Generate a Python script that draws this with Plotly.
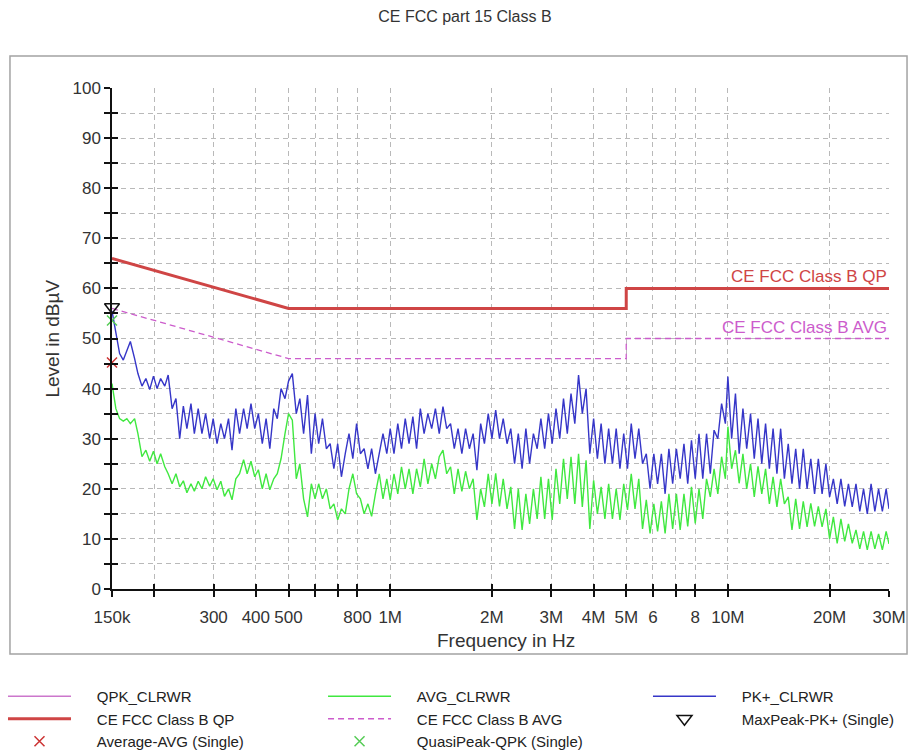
import plotly.graph_objects as go

# ---------------- text ----------------
title_text = "CE FCC part 15 Class B"
x_title = "Frequency in Hz"
y_title = "Level in dBµV"
legend_names = ["QPK_CLRWR", "AVG_CLRWR", "PK+_CLRWR", "CE FCC Class B QP",
                "CE FCC Class B AVG", "MaxPeak-PK+ (Single)", "Average-AVG (Single)",
                "QuasiPeak-QPK (Single)"]

# ---------------- axes ----------------
x_tick_vals_hz = [150e3, 200e3, 300e3, 400e3, 500e3, 600e3, 700e3, 800e3, 1e6,
                  2e6, 3e6, 4e6, 5e6, 6e6, 7e6, 8e6, 10e6, 20e6, 30e6]
x_tick_text = ["150k", "", "300", "400", "500", "", "", "800", "1M",
               "2M", "3M", "4M", "5M", "6", "", "8", "10M", "20M", "30M"]
y_tick_vals = [0, 5, 10, 15, 20, 25, 30, 35, 40, 45, 50, 55, 60, 65, 70, 75, 80, 85, 90, 95, 100]
y_tick_text = ["0", "", "10", "", "20", "", "30", "", "40", "", "50", "", "60", "", "70", "",
               "80", "", "90", "", "100"]

# ---------------- limit lines ----------------
limit_freq_hz = [150e3, 500e3, 5e6, 5e6, 30e6]
qp_limit_level = [66, 56, 56, 60, 60]
avg_limit_level = [56, 46, 46, 50, 50]

# ---------------- measured traces (kHz, dBµV) ----------------
freq_khz_seg1 = [150, 154, 158, 162, 166, 170, 175, 179, 184, 189,
                 194, 199, 204, 209, 215, 220, 226, 232, 238, 244,
                 250, 257, 263, 270, 277, 284, 292, 299, 307, 315,
                 323, 332, 340, 349, 358, 368, 377, 387, 397, 407,
                 418, 429, 440, 452, 463, 475, 488, 500, 513, 527,
                 540, 554, 569, 584, 599, 614, 630, 647, 664, 681,
                 699, 717, 736, 755, 775, 795, 816, 837, 859, 881,
                 904, 928, 952, 977, 1000]
freq_khz_seg2 = [1026, 1053, 1080, 1108, 1137, 1167, 1197, 1228, 1260, 1293,
                 1327, 1361, 1397, 1433, 1470, 1509, 1548, 1588, 1630, 1672,
                 1716, 1760, 1806, 1853, 1901, 1951, 2001, 2053, 2107, 2161,
                 2218, 2275, 2335, 2395, 2458, 2522, 2587, 2655, 2724, 2794,
                 2867, 2942, 3018, 3097, 3177, 3260, 3345, 3431, 3521, 3612,
                 3706, 3802, 3901, 4003, 4107, 4213, 4323, 4435, 4551, 4669,
                 4790, 4915, 5043, 5174, 5308, 5446, 5588, 5733, 5882, 6035,
                 6192, 6353, 6518, 6688, 6862, 7040, 7223, 7411, 7604, 7801,
                 8004, 8212, 8426, 8645, 8870, 9101, 9337, 9580, 9829]
freq_khz_seg3 = [10000, 10260, 10530, 10800, 11080, 11370, 11670, 11970, 12280, 12600,
                 12930, 13270, 13610, 13970, 14330, 14700, 15090, 15480, 15880, 16300,
                 16720, 17160, 17600, 18060, 18530, 19010, 19510, 20010, 20530, 21070,
                 21610, 22180, 22750, 23350, 23950, 24580, 25220, 25870, 26550, 27240,
                 27940, 28670, 29420, 30000]

pk_level_seg1 = [55.5, 51, 47, 45.7, 47.5, 49.4, 46, 43, 40.5, 42,
                 39.8, 42.5, 40, 42, 40.5, 42.7, 36, 38, 30, 36.5,
                 32, 37, 31, 36, 31, 35, 30, 34, 29, 33,
                 30, 34, 27.7, 36, 31, 36, 32, 37, 32, 35,
                 29, 34, 28, 36, 34, 40, 38, 41.5, 43, 35,
                 38, 31, 38.7, 27, 35, 29, 34, 28, 29, 24,
                 29, 22.4, 27, 31, 26, 33, 27, 28, 24, 28,
                 23, 27, 31, 27, 32]
pk_level_seg2 = [27, 33, 28, 34, 29, 34.4, 28, 36, 31, 35,
                 32, 36, 31, 36.4, 32, 33, 28, 32, 27, 32,
                 28, 31, 23.7, 33, 29, 35, 30, 35.7, 30, 34,
                 29, 32, 25, 31, 24, 32, 25, 31, 28, 34,
                 28, 35, 29, 36, 30, 38, 31, 39, 33, 42.7,
                 35, 40, 27, 34, 26, 33, 25, 32, 25, 32,
                 24, 31, 24, 33, 26, 32, 25, 27, 20, 27,
                 21, 27, 19, 28, 21, 28, 22, 29, 21, 29.7,
                 22, 31, 22, 31, 23, 31.7, 30, 37, 33]
pk_level_seg3 = [42.4, 30, 39, 27, 36, 28, 35, 26, 34, 25,
                 33, 24, 32, 23, 32, 22, 29, 21, 28, 20,
                 28, 20, 26, 19, 26, 19, 25, 18.4, 22, 17,
                 22, 16.5, 21, 16.4, 21, 15.5, 20, 15, 21, 15.5,
                 20, 15.5, 20, 16]

avg_level_seg1 = [41, 36, 34, 33.5, 34, 33, 34, 31, 26.4, 27.7,
                  25.5, 27.5, 25, 27, 24.4, 23, 21, 23, 20.4, 21.6,
                  19.2, 21, 19.5, 21.5, 20, 22.4, 20.5, 22, 19.8, 21.5,
                  18.5, 20, 17.8, 22, 23, 25.8, 23, 25.5, 22.4, 23.8,
                  20, 23, 19.8, 22, 23, 26, 31, 35, 33.7, 22,
                  25, 18, 14.4, 21, 18, 21, 18, 20, 16, 17,
                  13.8, 16, 15, 20, 23, 19, 18, 15, 17, 14.5,
                  19, 23, 18, 22, 17.8]
avg_level_seg2 = [23, 19, 24.4, 20, 24, 19, 24, 20.4, 26, 21,
                  25, 22, 26.4, 27.7, 23, 24.4, 19, 24, 19.5, 23.5,
                  20, 22, 13.8, 20, 16.4, 23, 17, 23.1, 16.5, 22,
                  16, 20.4, 12, 20, 11.8, 19, 13, 20, 14, 22.4,
                  14, 22, 13.8, 24, 17, 26, 18, 26.4, 17, 27,
                  16.4, 25.7, 12, 21.7, 15, 20.4, 14, 21, 14, 20,
                  13.8, 21, 15.8, 23, 16, 22, 12, 17.8, 11.1, 17,
                  11.5, 17.5, 11.1, 19, 12, 19, 11.8, 19, 12.5, 20.4,
                  13.1, 20, 14, 22, 18.4, 24, 19, 26.4, 22]
avg_level_seg3 = [32.4, 24, 27.7, 21.1, 27, 20, 25, 18.4, 24.5, 19,
                  24, 17, 22.4, 16.4, 22, 17, 18.4, 11.8, 18, 12,
                  17.5, 12.4, 17.1, 12.5, 16.5, 12.4, 16, 10, 14.4, 9.1,
                  14, 9.5, 13, 9.1, 11.8, 8, 11.5, 7.8, 11.5, 8,
                  11, 7.8, 11.5, 9]

# QPK clear-write trace: only its start point is visible (hidden under the others)
qpk_freq_hz = [150e3]
qpk_level = [55.5]

# ---------------- single final measurements ----------------
maxpeak_freq_hz = [150e3]
maxpeak_level = [56.3]
average_single_freq_hz = [150e3]
average_single_level = [45.2]
quasipeak_single_freq_hz = [150e3]
quasipeak_single_level = [53.6]

freq_hz = [f * 1e3 for f in freq_khz_seg1 + freq_khz_seg2 + freq_khz_seg3]
pk_level = pk_level_seg1 + pk_level_seg2 + pk_level_seg3
avg_level = avg_level_seg1 + avg_level_seg2 + avg_level_seg3

FONT = "Liberation Sans, Arial, sans-serif"
C_QPK = "#cc77cc"
C_QP = "#cf4545"
C_AVGL = "#cc5ccc"
C_GREEN = "#40e840"
C_BLUE = "#3636c8"
PAD = "\u00a0" * 5  # gap between legend symbol and its text


def nm(s):
    return PAD + s


fig = go.Figure()

fig.add_trace(go.Scatter(x=qpk_freq_hz, y=qpk_level, mode="lines", name=nm(legend_names[0]),
                         line=dict(color=C_QPK, width=1.5), legend="legend"))
fig.add_trace(go.Scatter(x=freq_hz, y=avg_level, mode="lines", name=nm(legend_names[1]),
                         line=dict(color=C_GREEN, width=1.4), legend="legend2"))
fig.add_trace(go.Scatter(x=freq_hz, y=pk_level, mode="lines", name=nm(legend_names[2]),
                         line=dict(color=C_BLUE, width=1.4), legend="legend3"))
fig.add_trace(go.Scatter(x=limit_freq_hz, y=qp_limit_level, mode="lines",
                         name=nm(legend_names[3]),
                         line=dict(color=C_QP, width=3), legend="legend"))
fig.add_trace(go.Scatter(x=limit_freq_hz, y=avg_limit_level, mode="lines",
                         name=nm(legend_names[4]),
                         line=dict(color=C_AVGL, width=1.3, dash="6px,4px"), legend="legend2"))
fig.add_trace(go.Scatter(x=maxpeak_freq_hz, y=maxpeak_level, mode="markers",
                         name=nm(legend_names[5]), cliponaxis=False,
                         marker=dict(symbol="triangle-down-open", size=13, color="#111111",
                                     line=dict(width=1.5)), legend="legend3"))
fig.add_trace(go.Scatter(x=average_single_freq_hz, y=average_single_level, mode="markers",
                         name=nm(legend_names[6]), cliponaxis=False,
                         marker=dict(symbol="x-thin-open", size=10, color="#cc3333",
                                     line=dict(width=1.5, color="#cc3333")), legend="legend"))
fig.add_trace(go.Scatter(x=quasipeak_single_freq_hz, y=quasipeak_single_level, mode="markers",
                         name=nm(legend_names[7]), cliponaxis=False,
                         marker=dict(symbol="x-thin-open", size=10, color="#55cc55",
                                     line=dict(width=1.5, color="#55cc55")), legend="legend2"))
# carrier for the inner half of the crossing tick marks
fig.add_trace(go.Scatter(x=[], y=[], xaxis="x2", yaxis="y2", showlegend=False,
                         hoverinfo="skip"))

x_range = [5.176091259, 7.477121255]  # log10(150e3), log10(30e6)
grid = dict(showgrid=True, gridcolor="#b9b9b9", gridwidth=1, griddash="5px,4px")
leg_common = dict(y=-0.1816, xanchor="left", yanchor="top", itemwidth=63,
                  bgcolor="rgba(0,0,0,0)", tracegroupgap=0,
                  font=dict(family=FONT, size=15, color="#222222"))

fig.update_layout(
    width=917, height=752,
    margin=dict(l=112, r=28, t=88, b=163, autoexpand=False),
    paper_bgcolor="white", plot_bgcolor="white",
    font=dict(family=FONT, size=17, color="#333333"),
    title=dict(text=title_text, x=0.507, xanchor="center", y=0.978, yanchor="middle",
               font=dict(family=FONT, size=16, color="#333333")),
    xaxis=dict(type="log", range=x_range, tickvals=x_tick_vals_hz, ticktext=x_tick_text,
               ticks="outside", ticklen=6, tickwidth=1.5, tickcolor="#111111",
               showline=True, linecolor="#111111", linewidth=1.5, zeroline=False,
               ticklabelstandoff=6, tickfont=dict(size=17, color="#333333"), **grid),
    yaxis=dict(range=[0, 100], tickvals=y_tick_vals, ticktext=y_tick_text,
               ticks="outside", ticklen=6, tickwidth=1.5, tickcolor="#111111",
               showline=True, linecolor="#111111", linewidth=1.5, zeroline=False,
               tickfont=dict(size=17, color="#333333"), **grid),
    xaxis2=dict(type="log", range=x_range, overlaying="x", anchor="y2", side="bottom",
                tickvals=x_tick_vals_hz, ticks="inside", ticklen=5, tickwidth=1.5,
                tickcolor="#111111", showticklabels=False, showgrid=False,
                showline=False, zeroline=False),
    yaxis2=dict(range=[0, 100], overlaying="y", anchor="x2", side="left",
                tickvals=y_tick_vals, ticks="inside", ticklen=6, tickwidth=1.5,
                tickcolor="#111111", showticklabels=False, showgrid=False,
                showline=False, zeroline=False),
    legend=dict(x=-0.1403, **leg_common),
    legend2=dict(x=0.2716, **leg_common),
    legend3=dict(x=0.6898, **leg_common),
    showlegend=True,
)

# outer frame
fig.add_shape(type="rect", xref="paper", yref="paper",
              x0=-0.1313, x1=1.0232, y0=-0.1297, y1=1.0639,
              line=dict(color="#a3a3a3", width=1.5), layer="below")

# axis titles
fig.add_annotation(text=x_title, xref="paper", yref="paper", x=0.507, y=-0.102,
                   xanchor="center", yanchor="middle", showarrow=False,
                   font=dict(family=FONT, size=19, color="#333333"))
fig.add_annotation(text=y_title, xref="paper", yref="paper", x=-0.0772, y=0.5,
                   xanchor="center", yanchor="middle", textangle=-90, showarrow=False,
                   font=dict(family=FONT, size=19, color="#333333"))

# limit labels
fig.add_annotation(text="CE FCC Class B QP", xref="paper", yref="y", x=1.0, y=qp_limit_level[-1],
                   xanchor="right", yanchor="bottom", showarrow=False,
                   font=dict(family=FONT, size=17, color=C_QP))
fig.add_annotation(text="CE FCC Class B AVG", xref="paper", yref="y", x=1.0, y=avg_limit_level[-1],
                   xanchor="right", yanchor="bottom", showarrow=False,
                   font=dict(family=FONT, size=17, color=C_AVGL))

fig.write_html("out.html")
